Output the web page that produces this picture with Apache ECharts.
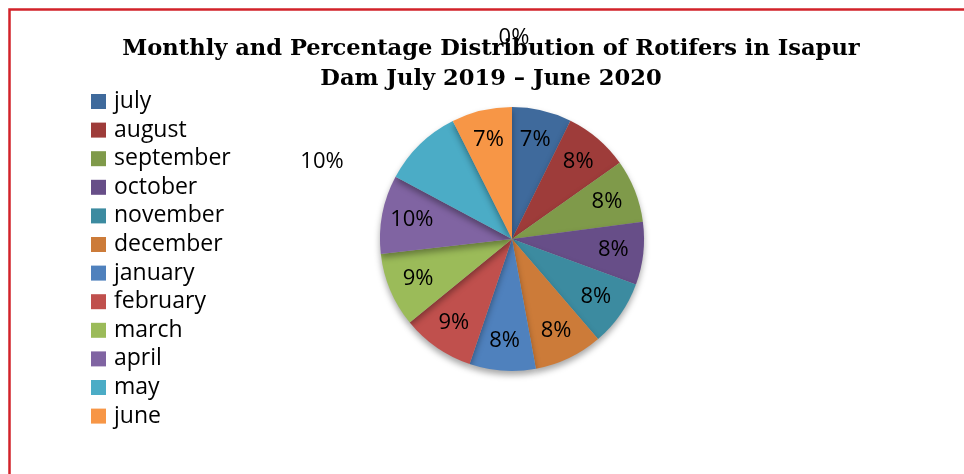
<!DOCTYPE html>
<html><head><meta charset="utf-8">
<script src="https://cdn.jsdelivr.net/npm/echarts@6/dist/echarts.min.js"></script>
<style>html,body{margin:0;padding:0;background:#fff}#c{width:964px;height:474px}</style>
</head><body><div id="c"></div>
<script>
const months = ['july','august','september','october','november','december','january','february','march','april','may','june'];
const values = [7.3, 7.9, 7.7, 7.7, 8.1, 8.4, 8.1, 8.9, 9.1, 9.6, 9.8, 7.4];
const extraValue = 0; // unnamed zero entry shown as "0%"
const colors = ['#3F6A9C','#9E3C3A','#7F9A4A','#674E88','#3C8BA0','#CC7B39','#4F81BD','#C0504D','#9BBB59','#8064A2','#4BACC6','#F79646'];
const titleText = 'Monthly and Percentage Distribution of Rotifers in Isapur\nDam July 2019 \u2013 June 2020';

const pieData = months.map((m, i) => ({ name: m, value: values[i], itemStyle: { color: colors[i] } }));
const labelData = months.map((m, i) => ({ name: m, value: values[i] }));
labelData.push({ name: '', value: extraValue });

const chart = echarts.init(document.getElementById('c'), null, { renderer: 'canvas' });
const R = 132;
const C = [512, 239];
chart.setOption({
  backgroundColor: '#fff',
  animation: false,
  title: {
    text: titleText,
    left: 491, top: 34, textAlign: 'center', padding: 0,
    textStyle: { fontFamily: 'DejaVu Serif', fontWeight: 'bold', fontSize: 22.6, lineHeight: 30, color: '#000' }
  },
  legend: {
    data: months, orient: 'vertical', left: 91, top: 90, padding: 0,
    icon: 'rect', itemWidth: 15, itemHeight: 15, itemGap: 5.6,
    textStyle: { fontFamily: 'Open Sans', fontSize: 23, color: '#000', padding: [0, 0, 0, 3] }
  },
  graphic: [{
    type: 'polyline', silent: true,
    shape: { points: [[9.5, 474], [9.5, 9.5], [964, 9.5]] },
    style: { stroke: '#D2232A', lineWidth: 2.5, fill: null }
  }],
  series: [{
    type: 'pie', center: C, radius: [0, R], startAngle: 90, clockwise: true,
    data: pieData, label: { show: false }, labelLine: { show: false },
    itemStyle: { shadowBlur: 6, shadowOffsetY: 4, shadowColor: 'rgba(0,0,0,0.35)' },
    emphasis: { disabled: true }
  }, {
    type: 'pie', center: C, radius: [R * 0.5, R], startAngle: 90, clockwise: true,
    data: labelData, silent: true, avoidLabelOverlap: false,
    itemStyle: { color: 'rgba(0,0,0,0)' },
    label: { show: true, position: 'inside', fontFamily: 'Open Sans', fontSize: 22, color: '#000',
      formatter: p => Math.round(p.percent) + '%' },
    labelLine: { show: false },
    labelLayout: function (p) {
      if (p.dataIndex === 10) return { x: 322, y: 162, align: 'center', verticalAlign: 'middle' };
      if (p.dataIndex === 12) return { x: 514, y: 38, align: 'center', verticalAlign: 'middle' };
    },
    emphasis: { disabled: true }
  }]
});
</script></body></html>
